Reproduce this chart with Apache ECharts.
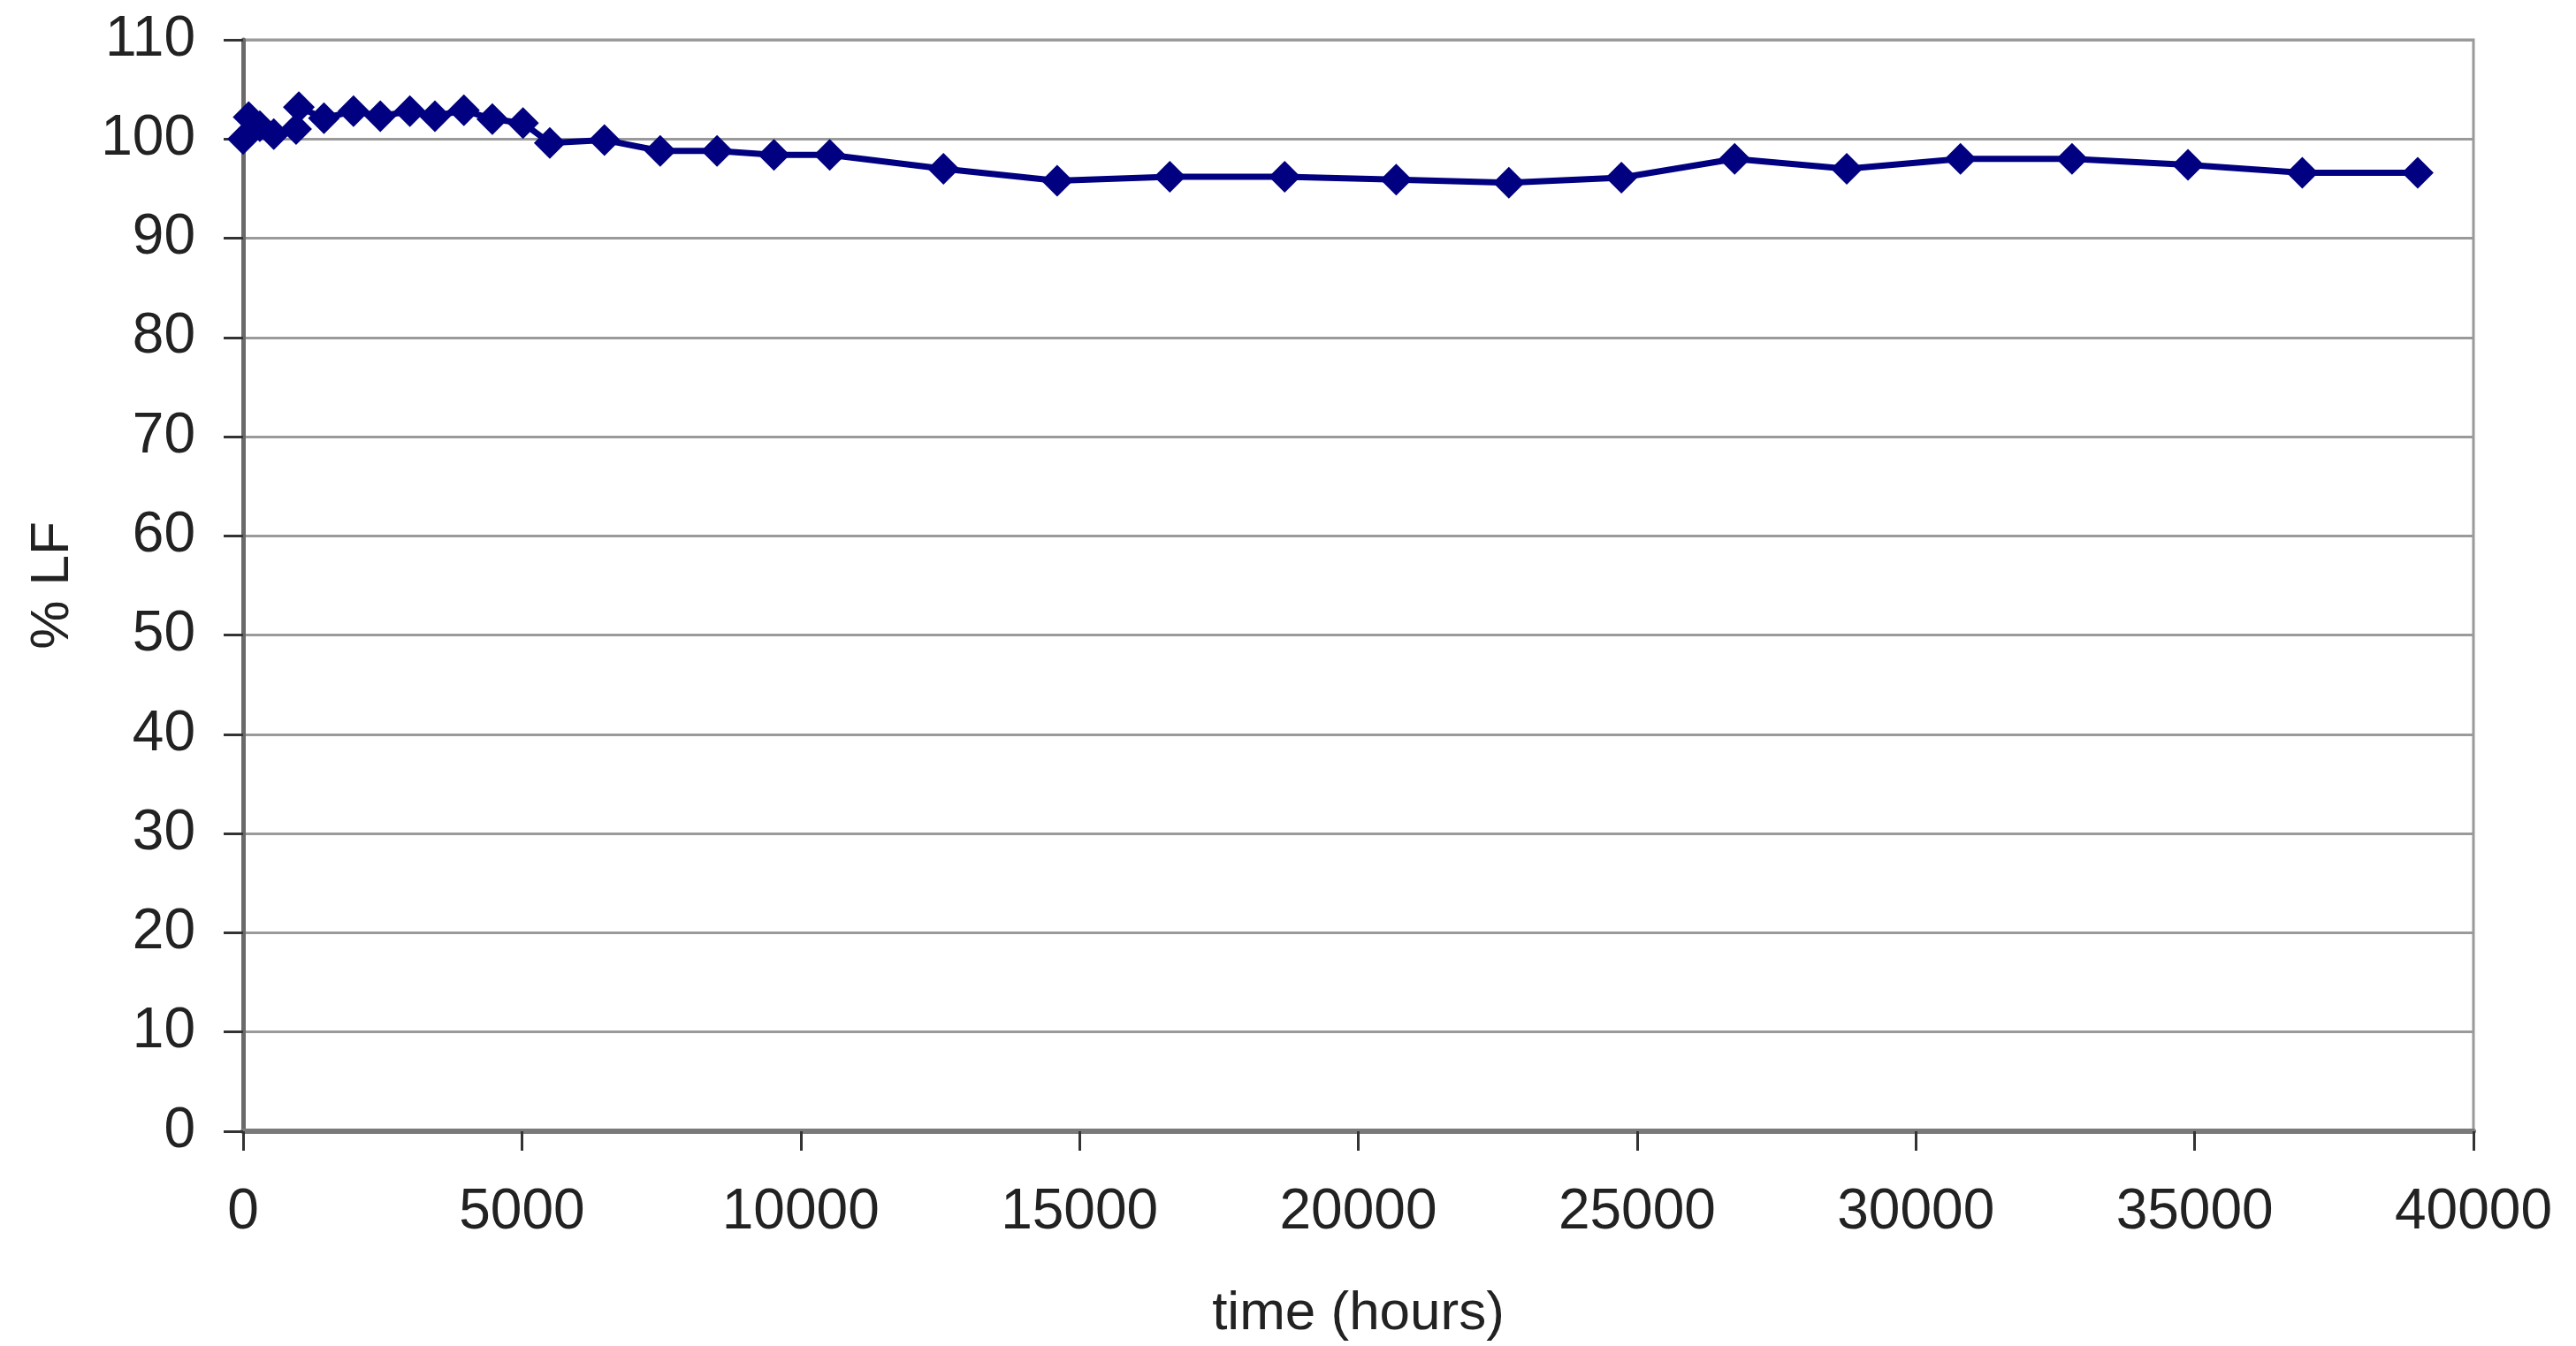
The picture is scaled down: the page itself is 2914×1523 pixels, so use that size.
<!DOCTYPE html>
<html>
<head>
<meta charset="utf-8">
<script src="https://cdn.jsdelivr.net/npm/echarts@6/dist/echarts.min.js"></script>
<style>
html,body{margin:0;padding:0;background:#fff;}
#chart{width:2914px;height:1523px;}
</style>
</head>
<body>
<div id="chart"></div>
<script>
// time in hours
var hours = [0, 100, 300, 550, 950, 1000, 1450, 1980, 2460, 2990, 3440, 3960, 4470, 5020, 5500, 6480, 7480, 8500, 9520, 10520, 12560, 14600, 16620, 18680, 20680, 22700, 24720, 26750, 28760, 30800, 32800, 34880, 36930, 39000];
// % LF
var percentLF = [100.0, 102.2, 101.3, 100.5, 101.0, 103.2, 102.1, 102.8, 102.3, 102.8, 102.3, 102.9, 102.0, 101.6, 99.6, 99.9, 98.8, 98.8, 98.4, 98.4, 97.0, 95.8, 96.2, 96.2, 95.9, 95.6, 96.1, 98.0, 97.0, 98.0, 98.0, 97.4, 96.6, 96.6];
var xTicks = [0, 5000, 10000, 15000, 20000, 25000, 30000, 35000, 40000];
var yTicks = [0, 10, 20, 30, 40, 50, 60, 70, 80, 90, 100, 110];

var points = hours.map(function (h, i) { return [h, percentLF[i]]; });
var font = 'Liberation Sans, Arial, sans-serif';
var chart = echarts.init(document.getElementById('chart'));
chart.setOption({
  backgroundColor: '#ffffff',
  animation: false,
  grid: { left: 275, right: 116, top: 45, bottom: 241, show: true, borderColor: '#9a9a9a', borderWidth: 3, backgroundColor: 'transparent' },
  xAxis: {
    type: 'value',
    min: xTicks[0], max: xTicks[xTicks.length - 1], interval: 5000,
    name: 'time (hours)', nameLocation: 'middle', nameGap: 176,
    nameTextStyle: { fontFamily: font, fontSize: 62, color: '#222' },
    axisLine: { show: true, onZero: false, lineStyle: { color: '#7a7a7a', width: 6 } },
    axisTick: { show: true, inside: false, length: 22, lineStyle: { color: '#333', width: 3 } },
    axisLabel: { fontFamily: font, fontSize: 64, color: '#222', margin: 60, formatter: function (v) { return String(v); } },
    splitLine: { show: false }
  },
  yAxis: {
    type: 'value',
    min: yTicks[0], max: yTicks[yTicks.length - 1], interval: 10,
    name: '% LF', nameLocation: 'middle', nameGap: 184, nameRotate: 90,
    nameTextStyle: { fontFamily: font, fontSize: 62, color: '#222' },
    axisLine: { show: true, lineStyle: { color: '#6a6a6a', width: 5 } },
    axisTick: { show: true, inside: false, length: 22, lineStyle: { color: '#333', width: 3 } },
    axisLabel: { fontFamily: font, fontSize: 64, color: '#222', margin: 54 },
    splitLine: { show: true, lineStyle: { color: '#9a9a9a', width: 3 } }
  },
  series: [{
    type: 'line',
    data: points,
    symbol: 'diamond',
    symbolSize: 36,
    itemStyle: { color: '#000080' },
    lineStyle: { color: '#000080', width: 7 }
  }]
});
</script>
</body>
</html>
